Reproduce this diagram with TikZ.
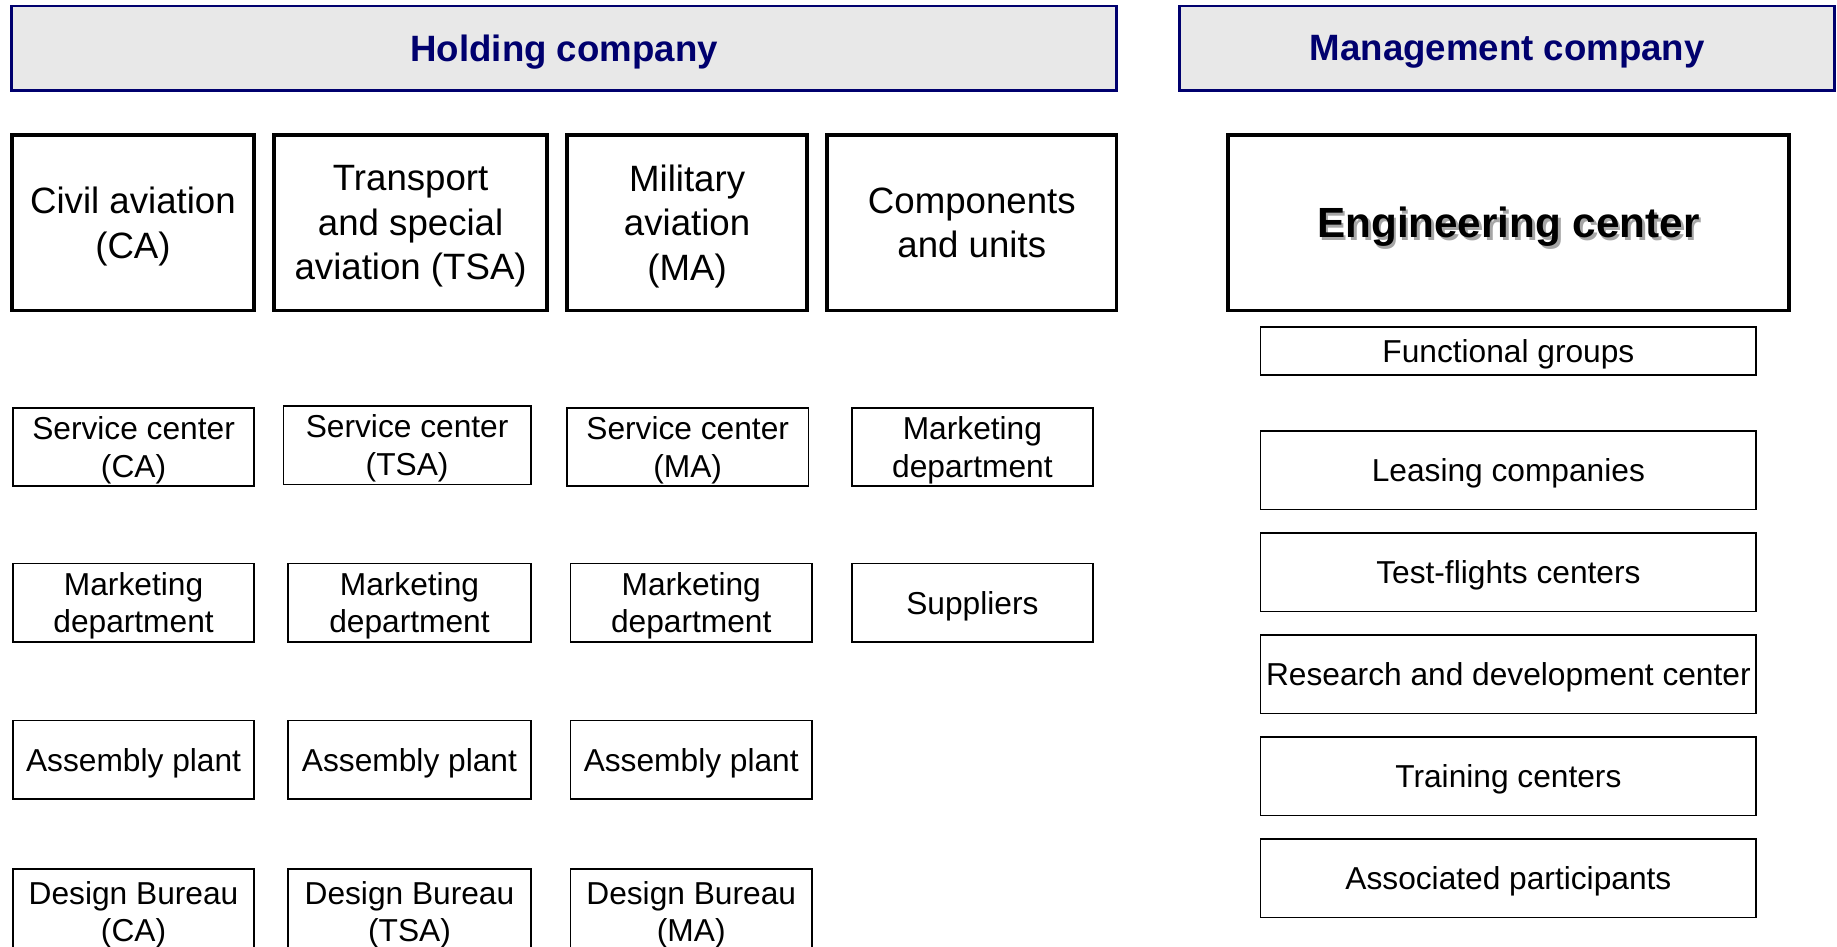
\documentclass[tikz,border=0pt]{standalone}
\usepackage{fontspec}
\setmainfont{Liberation Sans}
\usepackage{tikz}

\definecolor{headnavy}{RGB}{0,0,110}
\definecolor{headgray}{RGB}{232,232,232}
\newcommand\shadowed[1]{\makebox[0pt][l]{\hspace{1.3pt}\raisebox{-1.3pt}{\color{black!35}#1}}#1}

\begin{document}
\begin{tikzpicture}[x=0.02cm,y=-0.02cm,
  head/.style={draw=headnavy,line width=1.3pt,fill=headgray,text=headnavy,inner sep=1pt,text depth=-1pt,
    minimum height=72*0.02cm,font=\bfseries\fontsize{17.8}{20}\selectfont},
  unit/.style={draw,line width=1.8pt,align=center,inner sep=1pt,text depth=-1pt,
    minimum height=150*0.02cm,font=\fontsize{17.8}{21.5}\selectfont},
  dept/.style={draw,line width=0.8pt,align=center,inner sep=1pt,text depth=-1pt,
    minimum height=67*0.02cm,font=\fontsize{15.4}{18.2}\selectfont}]
 \clip (0,0) rectangle (1568,808);
 \fill[white] (0,0) rectangle (1568,808);

 \node[head,minimum width=943*0.02cm] (hold) at (481.5,41) {Holding company};
 \node[head,minimum width=559*0.02cm] (mgmt) at (1286.5,41) {Management company};

 \node[unit,minimum width=207*0.02cm] (ca)  at (113.5,190) {Civil aviation\\(CA)};
 \node[unit,minimum width=233*0.02cm] (tsa) at (350.5,190) {Transport\\and special\\aviation (TSA)};
 \node[unit,minimum width=205*0.02cm] (ma)  at (586.5,190) {Military\\aviation\\(MA)};
 \node[unit,minimum width=247*0.02cm] (cu)  at (829.5,190) {Components\\and units};
 \node[unit,minimum width=479*0.02cm,font=\bfseries\fontsize{20.5}{24}\selectfont] (eng) at (1287.5,190) {\shadowed{Engineering center}};

 \node[dept,minimum width=423*0.02cm,minimum height=41*0.02cm] (fgrp) at (1287.5,299.5) {Functional groups};

 \node[dept,minimum width=206*0.02cm] (sc-ca)  at (114,381.5) {Service center\\(CA)};
 \node[dept,minimum width=211*0.02cm] (sc-tsa) at (347.5,380) {Service center\\(TSA)};
 \node[dept,minimum width=206*0.02cm] (sc-ma)  at (587,381.5) {Service center\\(MA)};
 \node[dept,minimum width=206*0.02cm] (mk-cu)  at (830,381.5) {Marketing\\department};

 \node[dept,minimum width=206*0.02cm] (mk-ca)  at (114,514.5) {Marketing\\department};
 \node[dept,minimum width=207*0.02cm] (mk-tsa) at (349.5,514.5) {Marketing\\department};
 \node[dept,minimum width=206*0.02cm] (mk-ma)  at (590,514.5) {Marketing\\department};
 \node[dept,minimum width=206*0.02cm] (sup)    at (830,514.5) {Suppliers};

 \node[dept,minimum width=206*0.02cm] (ap-ca)  at (114,648.5) {Assembly plant};
 \node[dept,minimum width=207*0.02cm] (ap-tsa) at (349.5,648.5) {Assembly plant};
 \node[dept,minimum width=206*0.02cm] (ap-ma)  at (590,648.5) {Assembly plant};

 \node[dept,minimum width=206*0.02cm,minimum height=72*0.02cm] (db-ca)  at (114,778) {Design Bureau\\(CA)};
 \node[dept,minimum width=207*0.02cm,minimum height=72*0.02cm] (db-tsa) at (349.5,778) {Design Bureau\\(TSA)};
 \node[dept,minimum width=206*0.02cm,minimum height=72*0.02cm] (db-ma)  at (590,778) {Design Bureau\\(MA)};

 \node[dept,minimum width=423*0.02cm] (lease) at (1287.5,401.5) {Leasing companies};
 \node[dept,minimum width=423*0.02cm] (test)  at (1287.5,488.5) {Test-flights centers};
 \node[dept,minimum width=423*0.02cm] (rnd)   at (1287.5,575.5) {Research and development center};
 \node[dept,minimum width=423*0.02cm] (train) at (1287.5,662.5) {Training centers};
 \node[dept,minimum width=423*0.02cm] (assoc) at (1287.5,749.5) {Associated participants};
\end{tikzpicture}
\end{document}
